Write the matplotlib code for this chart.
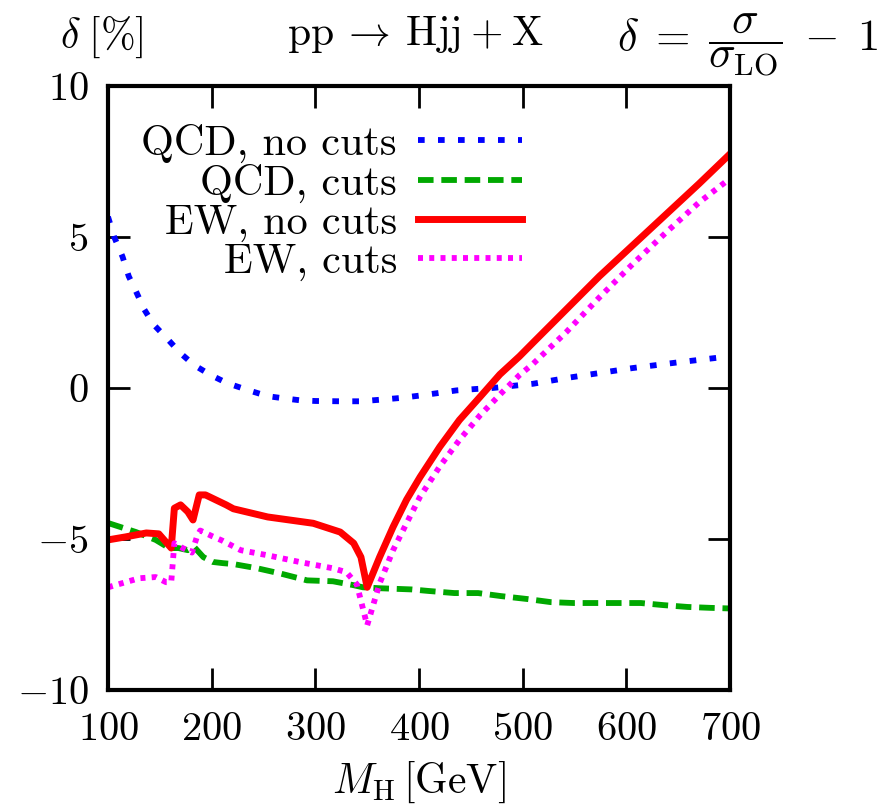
import matplotlib.pyplot as plt
from matplotlib.ticker import FuncFormatter

plt.rcParams['font.family'] = 'cmr10'
plt.rcParams['mathtext.fontset'] = 'cm'
plt.rcParams['lines.scale_dashes'] = False
plt.rcParams['axes.unicode_minus'] = False

# QCD, no cuts
mh_qcd = [100, 106, 114, 120, 127, 135, 144, 158, 170, 183, 199, 215, 235, 254, 269, 286,
          300, 325, 343, 362, 382, 401, 420, 436, 456, 471, 490, 510, 542, 606, 650, 700]
qcd_nocuts = [5.67, 5.0, 4.35, 3.7, 3.2, 2.6, 2.1, 1.6, 1.15, 0.76, 0.43, 0.16, -0.07, -0.27, -0.34, -0.41,
              -0.43, -0.44, -0.44, -0.39, -0.33, -0.25, -0.16, -0.08, -0.03, 0.0, 0.07, 0.14, 0.33, 0.66, 0.85, 1.05]

# QCD, cuts
mh_qcdc = [100, 127, 146, 159, 168, 177, 183, 192, 201, 211, 221, 244, 266, 292, 317, 337, 346,
           362, 393, 409, 434, 457, 479, 505, 527, 549, 568, 614, 636, 659, 681, 700]
qcd_cuts = [-4.47, -4.77, -5.03, -5.3, -5.3, -5.37, -5.26, -5.6, -5.76, -5.8, -5.83, -5.97, -6.14, -6.37, -6.4, -6.53, -6.6,
            -6.63, -6.67, -6.72, -6.79, -6.79, -6.89, -6.99, -7.09, -7.12, -7.12, -7.12, -7.19, -7.25, -7.28, -7.3]

# EW, no cuts
mh_ew = [100, 117, 137, 149, 161, 164, 170, 177, 182, 188, 194, 214, 221, 254, 298, 324, 337, 344, 350,
         362, 375, 388, 401, 420, 439, 459, 478, 497, 510, 542, 574, 606, 638, 670, 700]
ew_nocuts = [-5.03, -4.93, -4.8, -4.83, -5.3, -3.98, -3.87, -4.1, -4.37, -3.54, -3.54, -3.87, -4.0, -4.27, -4.48, -4.77, -5.14, -5.6, -6.6,
             -5.6, -4.6, -3.7, -2.95, -1.95, -1.06, -0.29, 0.45, 1.05, 1.5, 2.6, 3.7, 4.72, 5.74, 6.76, 7.75]

# EW, cuts
mh_ewc = [100, 130, 146, 156, 161, 164, 172, 181, 186, 189, 200, 210, 228, 254, 286, 317, 330, 340, 350,
          362, 375, 388, 401, 420, 439, 459, 480, 497, 510, 542, 574, 606, 638, 670, 696, 700]
ew_cuts = [-6.6, -6.3, -6.26, -6.43, -6.43, -5.14, -5.3, -5.45, -4.9, -4.72, -4.9, -5.05, -5.37, -5.54, -5.77, -5.97, -6.1, -6.5, -7.86,
           -6.47, -5.37, -4.48, -3.6, -2.6, -1.72, -0.9, -0.15, 0.43, 0.8, 1.85, 3.0, 4.1, 5.14, 6.14, 6.83, 6.9]

xticks = [100, 200, 300, 400, 500, 600, 700]
yticks = [-10, -5, 0, 5, 10]

fs = 29
fig = plt.figure(figsize=(8.89, 8.07), dpi=100)
ax = fig.add_axes([108 / 889, 117 / 807, 622 / 889, 604 / 807])

ax.plot(mh_qcd, qcd_nocuts, color='#0000ff', lw=4.2, dashes=(4.8, 9.6), label='QCD, no cuts')
ax.plot(mh_qcdc, qcd_cuts, color='#00a800', lw=4.2, dashes=(11.2, 5.6), label='QCD, cuts')
ax.plot(mh_ew, ew_nocuts, color='#ff0000', lw=5, label='EW, no cuts')
ax.plot(mh_ewc, ew_cuts, color='#ff00ff', lw=4.2, dashes=(3.6, 4.5), label='EW, cuts')

ax.set_xlim(100, 700)
ax.set_ylim(-10, 10)
ax.set_xticks(xticks)
ax.set_yticks(yticks)
fmt = FuncFormatter(lambda v, p: '$%g$' % v)
ax.xaxis.set_major_formatter(fmt)
ax.yaxis.set_major_formatter(fmt)
ax.tick_params(direction='in', length=16, width=2, labelsize=fs,
               top=True, right=True)
ax.tick_params(axis='x', pad=16)
ax.tick_params(axis='y', pad=14)
for s in ax.spines.values():
    s.set_linewidth(3)

ax.set_xlabel(r'$M_{\mathrm{H}}\,[\mathrm{GeV}]$', fontsize=fs + 1, labelpad=8)

fig.text(60 / 889, 1 - 48 / 807, r'$\delta\;[\%]$', fontsize=fs + 1, ha='left', va='baseline')
fig.text(415 / 889, 1 - 45 / 807, r'$\mathrm{pp}\:\rightarrow\:\mathrm{Hjj}\:+\:\mathrm{X}$',
         fontsize=fs + 1, ha='center', va='baseline')
fig.text(878 / 889, 1 - 45 / 807, r'$\delta\;=\;\dfrac{\sigma}{\sigma_{\mathrm{LO}}}\;-\;1$',
         fontsize=fs + 3, ha='right', va='center')

ax.legend(loc='upper right', bbox_to_anchor=(522 / 889, 1 - 124 / 807),
          bbox_transform=fig.transFigure, markerfirst=False, frameon=False,
          fontsize=fs + 1.5, handlelength=2.45, handletextpad=0.5, labelspacing=0.02,
          borderpad=0, borderaxespad=0)

fig.savefig('out.png', dpi=100)
